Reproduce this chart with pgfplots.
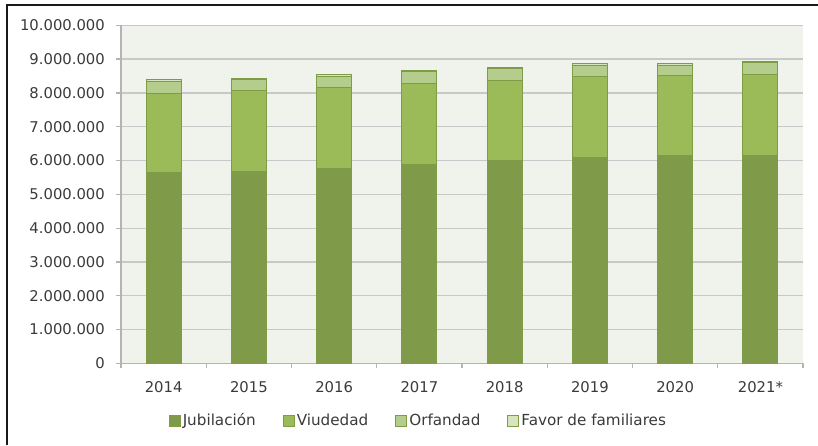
\documentclass[border=0pt]{standalone}
\usepackage{pgfplots}
\pgfplotsset{compat=1.18}
\usepackage{fontspec}
\setmainfont{DejaVu Sans}
\definecolor{jub}{HTML}{7F9A48}
\definecolor{viu}{HTML}{9BBB59}
\definecolor{orf}{HTML}{B5CD8C}
\definecolor{fav}{HTML}{D7E4BD}
\definecolor{edge}{HTML}{7E9C46}
\definecolor{bg}{HTML}{F0F2EC}
\definecolor{gridc}{HTML}{C8C8C8}
\definecolor{axc}{HTML}{B4B4B4}
\definecolor{txt}{HTML}{3A3A3A}
\begin{document}
\begin{tikzpicture}[x=1pt,y=1pt]
\path[use as bounding box] (0,0) rectangle (818,445);
\begin{axis}[
  at={(121pt,81.7pt)}, anchor=south west,
  width=682pt, height=338pt, scale only axis,
  ybar stacked, bar width=35pt,
  xmin=-0.5, xmax=7.5, ymin=0, ymax=10000000,
  axis background/.style={fill=bg},
  axis lines*=left,
  axis line style={-, draw=axc, line width=1.2pt},
  ymajorgrids, grid style={draw=gridc, line width=1.2pt},
  scaled y ticks=false,
  ytick={0,1000000,2000000,3000000,4000000,5000000,6000000,7000000,8000000,9000000,10000000},
  yticklabels={0,1.000.000,2.000.000,3.000.000,4.000.000,5.000.000,6.000.000,7.000.000,8.000.000,9.000.000,10.000.000},
  xtick={0,1,2,3,4,5,6,7},
  xticklabels={2014,2015,2016,2017,2018,2019,2020,2021*},
  minor xtick={-0.5,0.5,1.5,2.5,3.5,4.5,5.5,6.5,7.5},
  x tick style={draw=none},
  minor x tick style={draw=axc, line width=1.2pt},
  y tick style={draw=axc, line width=1.2pt},
  tick align=outside,
  major tick length=5pt, minor tick length=5pt,
  yticklabel style={font=\fontsize{14.8}{17}\selectfont, text=txt, inner sep=0pt, anchor=east, xshift=-11pt},
  xticklabel style={font=\fontsize{14.8}{17}\selectfont, text=txt, inner sep=0pt, anchor=north, yshift=-13pt},
  legend columns=4,
  legend cell align=left,
  legend image code/.code={\draw[#1] (0pt,-6pt) rectangle (11pt,5pt);},
  legend style={draw=none, fill=none, at={(axis description cs:0.436,-0.168)}, anchor=center,
    font=\fontsize{15.2}{17}\selectfont, text=txt,
    /tikz/every even column/.append style={column sep=25pt},
    nodes={inner xsep=2pt, inner ysep=1pt}},
]
\addplot[fill=jub, draw=edge, line width=1pt] coordinates {(0,5645000) (1,5680000) (2,5770000) (3,5870000) (4,5990000) (5,6090000) (6,6140000) (7,6160000)};
\addplot[fill=viu, draw=edge, line width=1pt] coordinates {(0,2345000) (1,2390000) (2,2390000) (3,2400000) (4,2390000) (5,2390000) (6,2360000) (7,2380000)};
\addplot[fill=orf, draw=edge, line width=1pt] coordinates {(0,360000) (1,320000) (2,330000) (3,350000) (4,330000) (5,340000) (6,320000) (7,350000)};
\addplot[fill=fav, draw=edge, line width=1pt] coordinates {(0,40000) (1,40000) (2,40000) (3,40000) (4,40000) (5,40000) (6,40000) (7,40000)};
\legend{Jubilación,Viudedad,Orfandad,Favor de familiares}
\end{axis}
\draw[line width=2pt, color=black!90] (7,0) -- (7,440) -- (818,440);
\end{tikzpicture}
\end{document}
